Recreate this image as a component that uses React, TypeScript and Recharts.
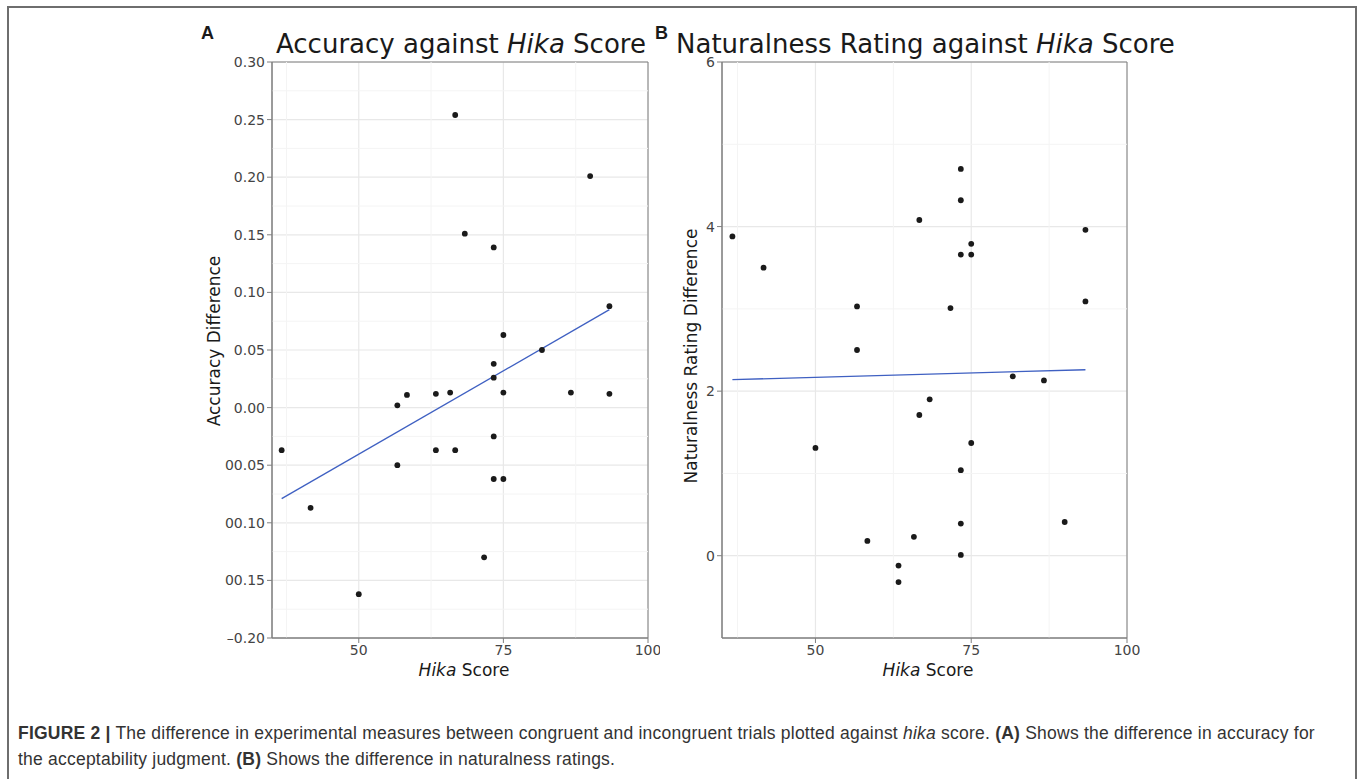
import React from "react";
import {
  ScatterChart,
  Scatter,
  XAxis,
  YAxis,
  CartesianGrid,
  ReferenceLine,
  ReferenceArea,
} from "recharts";

// Panel A: accuracy difference against hika score
const accScores = [
  36.67, 41.67, 50, 56.67, 56.67, 58.33, 63.33, 63.33, 65.8, 66.67, 66.67,
  68.33, 71.67, 73.33, 73.33, 73.33, 73.33, 73.33, 75, 75, 75, 81.67, 86.67,
  90, 93.33, 93.33,
];
const accDiffs = [
  -0.037, -0.087, -0.162, 0.002, -0.05, 0.011, 0.012, -0.037, 0.013, 0.254,
  -0.037, 0.151, -0.13, 0.139, 0.038, 0.026, -0.025, -0.062, 0.063, 0.013,
  -0.062, 0.05, 0.013, 0.201, 0.088, 0.012,
];
const accFitX = [36.67, 93.33];
const accFitY = [-0.079, 0.085];
const accTicks = [-0.2, -0.15, -0.1, -0.05, 0, 0.05, 0.1, 0.15, 0.2, 0.25, 0.3];
const accTickLabels = [
  "\u20130.20", "00.15", "00.10", "00.05", "0.00", "0.05", "0.10", "0.15",
  "0.20", "0.25", "0.30",
];
const accMinor = [-0.175, -0.125, -0.075, -0.025, 0.025, 0.075, 0.125, 0.175, 0.225, 0.275];

// Panel B: naturalness rating difference against hika score
const natScores = [
  36.67, 41.67, 50, 56.67, 56.67, 58.33, 63.33, 63.33, 65.8, 66.67, 66.67,
  68.33, 71.67, 73.33, 73.33, 73.33, 73.33, 73.33, 73.33, 75, 75, 75, 81.67,
  86.67, 90, 93.33, 93.33,
];
const natDiffs = [
  3.88, 3.5, 1.31, 3.03, 2.5, 0.18, -0.12, -0.32, 0.23, 4.08, 1.71, 1.9, 3.01,
  4.7, 4.32, 3.66, 1.04, 0.39, 0.01, 3.79, 3.66, 1.37, 2.18, 2.13, 0.41, 3.96,
  3.09,
];
const natFitX = [36.67, 93.33];
const natFitY = [2.14, 2.26];
const natTicks = [0, 2, 4, 6];
const natMinor = [1, 3, 5];

const xTicks = [50, 75, 100];
const xMinor = [37.5, 62.5, 87.5];

const FONT = "'DejaVu Sans', Verdana, sans-serif";
const POINT = "#1a1a1a";
const FIT = "#3f60c2";
const BORDER = "#7f7f7f";
const MAJOR = "#e8e8e8";
const MINOR = "#f4f4f4";

const zip = (xs: number[], ys: number[]) => xs.map((x, i) => ({ x, y: ys[i] }));

const Dot = (props: any) => <circle cx={props.cx} cy={props.cy} r={2.9} fill={POINT} />;
const NoDot = () => <g />;

const tickStyle = { fontSize: 14, fill: "#444", fontFamily: FONT };

function Panel({
  width,
  rightMargin,
  points,
  fit,
  yDomain,
  yTicks,
  yMinor,
  yFormat,
}: {
  width: number;
  rightMargin: number;
  points: { x: number; y: number }[];
  fit: { x: number; y: number }[];
  yDomain: [number, number];
  yTicks: number[];
  yMinor: number[];
  yFormat: (v: number) => string;
}) {
  return (
    <ScatterChart
      width={width}
      height={700}
      margin={{ top: 62, right: rightMargin, left: 22, bottom: 32 }}
    >
      {yMinor.map((v) => (
        <ReferenceLine key={"ym" + v} y={v} stroke={MINOR} strokeWidth={1} />
      ))}
      {xMinor.map((v) => (
        <ReferenceLine key={"xm" + v} x={v} stroke={MINOR} strokeWidth={1} />
      ))}
      <CartesianGrid stroke={MAJOR} strokeWidth={1.2} />
      <XAxis
        type="number"
        dataKey="x"
        domain={[35, 100]}
        ticks={xTicks}
        allowDataOverflow
        height={30}
        tick={tickStyle}
        tickSize={5}
        tickLine={{ stroke: BORDER }}
        axisLine={{ stroke: BORDER }}
      />
      <YAxis
        type="number"
        dataKey="y"
        domain={yDomain}
        ticks={yTicks}
        allowDataOverflow
        width={60}
        tick={tickStyle}
        tickSize={5}
        tickLine={{ stroke: BORDER }}
        axisLine={{ stroke: BORDER }}
        tickFormatter={yFormat}
      />
      <ReferenceArea
        x1={35}
        x2={100}
        y1={yDomain[0]}
        y2={yDomain[1]}
        fill="none"
        stroke={BORDER}
        strokeWidth={1}
      />
      <Scatter
        data={fit}
        line={{ stroke: FIT, strokeWidth: 1.3 }}
        shape={NoDot}
        isAnimationActive={false}
      />
      <Scatter data={points} shape={Dot} isAnimationActive={false} />
    </ScatterChart>
  );
}

const Hika = () => <span style={{ fontStyle: "italic" }}>Hika</span>;

export default function App() {
  const accFormat = (v: number) => {
    const i = accTicks.findIndex((t) => Math.abs(t - v) < 1e-9);
    return i >= 0 ? accTickLabels[i] : String(v);
  };
  const natFormat = (v: number) => String(v);

  const title: React.CSSProperties = {
    position: "absolute",
    fontFamily: FONT,
    fontSize: 26,
    lineHeight: "30px",
    color: "#1a1a1a",
    whiteSpace: "nowrap",
  };
  const letter: React.CSSProperties = {
    position: "absolute",
    fontFamily: "'Liberation Sans', Arial, sans-serif",
    fontWeight: "bold",
    fontSize: 18,
    color: "#1a1a1a",
  };
  const axisTitle: React.CSSProperties = {
    position: "absolute",
    fontFamily: FONT,
    fontSize: 17,
    color: "#1a1a1a",
    whiteSpace: "nowrap",
  };

  return (
    <div
      style={{
        position: "absolute",
        left: 0,
        top: 0,
        width: 1357,
        height: 779,
        background: "#fff",
        overflow: "hidden",
      }}
    >
      <div
        style={{
          position: "absolute",
          left: 7,
          top: 6,
          width: 1346,
          height: 800,
          border: "2px solid #6e6e6e",
          borderBottom: "none",
        }}
      />

      <div style={{ position: "absolute", left: 190, top: 0 }}>
        <Panel
          width={470}
          rightMargin={12}
          points={zip(accScores, accDiffs)}
          fit={zip(accFitX, accFitY)}
          yDomain={[-0.2, 0.3]}
          yTicks={accTicks}
          yMinor={accMinor}
          yFormat={accFormat}
        />
      </div>
      <div style={{ position: "absolute", left: 640, top: 0 }}>
        <Panel
          width={500}
          rightMargin={13}
          points={zip(natScores, natDiffs)}
          fit={zip(natFitX, natFitY)}
          yDomain={[-1, 6]}
          yTicks={natTicks}
          yMinor={natMinor}
          yFormat={natFormat}
        />
      </div>

      <div style={{ ...letter, left: 201, top: 23 }}>A</div>
      <div style={{ ...letter, left: 655, top: 23 }}>B</div>
      <div style={{ ...title, left: 276, top: 29 }}>
        Accuracy against <Hika /> Score
      </div>
      <div style={{ ...title, left: 676, top: 29 }}>
        Naturalness Rating against <Hika /> Score
      </div>

      <div style={{ ...axisTitle, left: 464, top: 660, transform: "translateX(-50%)" }}>
        <Hika /> Score
      </div>
      <div style={{ ...axisTitle, left: 928, top: 660, transform: "translateX(-50%)" }}>
        <Hika /> Score
      </div>
      <div
        style={{
          ...axisTitle,
          left: 214,
          top: 341,
          transform: "translate(-50%, -50%) rotate(-90deg)",
        }}
      >
        Accuracy Difference
      </div>
      <div
        style={{
          ...axisTitle,
          left: 691,
          top: 356,
          transform: "translate(-50%, -50%) rotate(-90deg)",
        }}
      >
        Naturalness Rating Difference
      </div>

      <div
        style={{
          position: "absolute",
          left: 18,
          top: 720,
          width: 1320,
          whiteSpace: "nowrap",
          fontFamily: "'Liberation Sans', Arial, sans-serif",
          fontSize: 17.5,
          letterSpacing: 0.22,
          lineHeight: "26px",
          color: "#333",
        }}
      >
        <b>FIGURE 2 |</b> The difference in experimental measures between congruent and
        incongruent trials plotted against <i>hika</i> score. <b>(A)</b> Shows the difference
        in accuracy for
        <br />
        the acceptability judgment. <b>(B)</b> Shows the difference in naturalness ratings.
      </div>
    </div>
  );
}
